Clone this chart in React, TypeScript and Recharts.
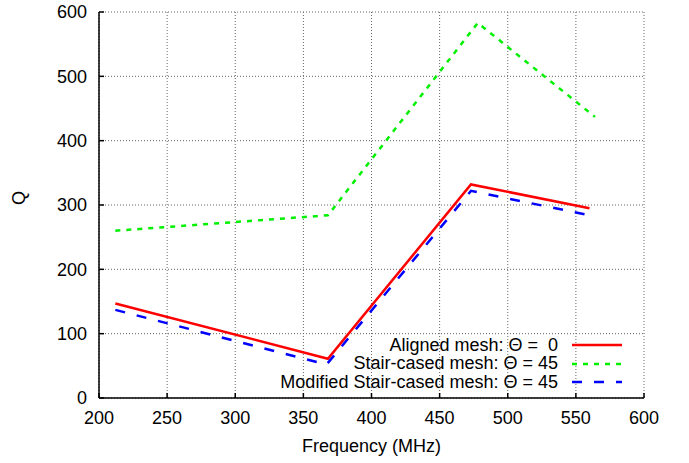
import React from 'react';
import { CartesianGrid, Line, LineChart, XAxis, YAxis } from 'recharts';

// Q versus frequency for three mesh types
type Pt = { f: number; q: number };

const xTicks = [200, 250, 300, 350, 400, 450, 500, 550, 600];
const yTicks = [0, 100, 200, 300, 400, 500, 600];

const aligned: Pt[] = [
  { f: 212, q: 147 },
  { f: 368, q: 61 },
  { f: 473, q: 332 },
  { f: 560, q: 295 },
];

const stairCased: Pt[] = [
  { f: 212, q: 260 },
  { f: 368, q: 284 },
  { f: 478, q: 583 },
  { f: 564, q: 437 },
];

const modified: Pt[] = [
  { f: 212, q: 137 },
  { f: 367, q: 52 },
  { f: 473, q: 322 },
  { f: 560, q: 284 },
];

const series = [
  { name: 'Aligned mesh: Θ =  0', data: aligned, color: '#ff0000', dash: undefined as string | undefined },
  { name: 'Stair-cased mesh: Θ = 45', data: stairCased, color: '#00f000', dash: '5 6' },
  { name: 'Modified Stair-cased mesh: Θ = 45', data: modified, color: '#0000ff', dash: '10 12' },
];

const FONT = '"Liberation Sans", Arial, sans-serif';
const FS = 18;

function LegendBox() {
  return (
    <div
      style={{
        position: 'absolute',
        left: 150,
        top: 336,
        width: 482,
        fontFamily: FONT,
        fontSize: FS,
        color: '#000',
        pointerEvents: 'none',
      }}
    >
      {series.map((s) => (
        <div key={s.name} style={{ display: 'flex', alignItems: 'center', justifyContent: 'flex-end', height: 18.5 }}>
          <span style={{ whiteSpace: 'pre' }}>{s.name}</span>
          <svg width={64} height={10} style={{ marginLeft: 10 }}>
            <line x1={4} y1={5} x2={54} y2={5} stroke={s.color} strokeWidth={2.5} strokeDasharray={s.dash} />
          </svg>
        </div>
      ))}
    </div>
  );
}

export default function App() {
  return (
    <div style={{ position: 'absolute', left: 0, top: 0, width: 689, height: 463, background: '#fff' }}>
      <LineChart width={689} height={463} margin={{ top: 12, right: 45, bottom: 35, left: 39 }}>
        <CartesianGrid stroke="#666" strokeDasharray="1 2" strokeWidth={1} />
        <XAxis
          dataKey="f"
          type="number"
          domain={[200, 600]}
          ticks={xTicks}
          allowDataOverflow
          height={30}
          stroke="#000"
          strokeWidth={1.5}
          tickSize={-5}
          tickMargin={18}
          tick={{ fill: '#000', fontSize: FS, fontFamily: FONT }}
          label={{ value: 'Frequency (MHz)', position: 'insideBottom', offset: -24, fill: '#000', fontSize: FS, fontFamily: FONT }}
        />
        <XAxis
          xAxisId="top"
          orientation="top"
          dataKey="f"
          type="number"
          domain={[200, 600]}
          ticks={xTicks}
          height={0}
          stroke="#000"
          strokeWidth={1.5}
          tickSize={-5}
          tick={false}
        />
        <YAxis
          type="number"
          domain={[0, 600]}
          ticks={yTicks}
          width={60}
          stroke="#000"
          strokeWidth={1.5}
          tickSize={-5}
          tickMargin={17}
          tick={{ fill: '#000', fontSize: FS, fontFamily: FONT }}
          label={{ value: 'Q', angle: -90, position: 'insideLeft', offset: -20, fill: '#000', fontSize: FS, fontFamily: FONT }}
        />
        <YAxis
          yAxisId="right"
          orientation="right"
          type="number"
          domain={[0, 600]}
          ticks={yTicks}
          width={0}
          stroke="#000"
          strokeWidth={1.5}
          tickSize={-5}
          tick={false}
        />
        {series.map((s) => (
          <Line
            key={s.name}
            data={s.data}
            dataKey="q"
            name={s.name}
            type="linear"
            stroke={s.color}
            strokeWidth={2.5}
            strokeDasharray={s.dash}
            dot={false}
            activeDot={false}
            isAnimationActive={false}
          />
        ))}
      </LineChart>
      <LegendBox />
    </div>
  );
}
